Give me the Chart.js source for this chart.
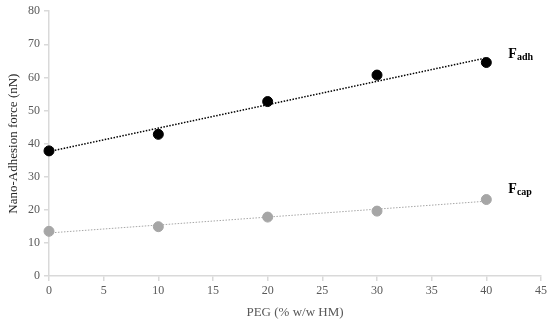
<!DOCTYPE html>
<html><head><meta charset="utf-8">
<script src="https://cdn.jsdelivr.net/npm/chart.js@4/dist/chart.umd.min.js"></script>
<style>html,body{margin:0;padding:0;background:#fff}#w{width:550px;height:320px}</style>
</head><body><div id="w"><canvas id="c"></canvas></div>
<script>
const pegPercent = [0, 10, 20, 30, 40];
const fAdh = [37.8, 42.8, 52.7, 60.7, 64.5];
const fCap = [13.5, 14.9, 17.8, 19.6, 23.1];
const trendX = [0, 40];
const fAdhTrend = [37.6, 65.9];
const fCapTrend = [13.0, 22.6];
const xTicks = [0, 5, 10, 15, 20, 25, 30, 35, 40, 45];
const yTicks = [0, 10, 20, 30, 40, 50, 60, 70, 80];
const seriesLabels = [["F", "adh"], ["F", "cap"]];

const pts = (xs, ys) => xs.map((x, i) => ({x, y: ys[i]}));
const serif = "'Liberation Serif', 'DejaVu Serif', serif";
const axisColor = '#d9d9d9';
const textColor = '#595959';

const labelPlugin = {
  id: 'seriesLabels',
  afterDatasetsDraw(chart) {
    const {ctx, scales: {x, y}} = chart;
    const anchors = [fAdhTrend[1], fCapTrend[1]];
    const offs = [[22, 0], [22, -8]];
    ctx.save();
    ctx.fillStyle = '#000';
    ctx.textBaseline = 'alphabetic';
    seriesLabels.forEach((lab, i) => {
      const px = x.getPixelForValue(trendX[1]) + offs[i][0];
      const py = y.getPixelForValue(anchors[i]) + offs[i][1];
      ctx.font = "bold 14px " + serif;
      ctx.fillText(lab[0], px, py);
      const w = ctx.measureText(lab[0]).width;
      ctx.font = "bold 10px " + serif;
      ctx.fillText(lab[1], px + w, py + 2);
    });
    ctx.restore();
  }
};

new Chart(document.getElementById('c'), {
  type: 'scatter',
  data: {
    datasets: [
      {data: pts(pegPercent, fAdh), backgroundColor: '#000', borderColor: '#000', pointRadius: 5, pointHoverRadius: 5, showLine: false, clip: false},
      {data: pts(pegPercent, fCap), backgroundColor: '#a6a6a6', borderColor: '#a6a6a6', pointRadius: 5, pointHoverRadius: 5, showLine: false, clip: false},
      {data: pts(trendX, fAdhTrend), borderColor: '#000', borderWidth: 1.5, borderDash: [1.5, 1.5], pointRadius: 0, showLine: true, clip: false},
      {data: pts(trendX, fCapTrend), borderColor: '#a6a6a6', borderWidth: 1, borderDash: [1.5, 1.5], pointRadius: 0, showLine: true, clip: false}
    ]
  },
  options: {
    responsive: true,
    maintainAspectRatio: false,
    animation: false,
    events: [],
    layout: {padding: {left: 6, right: 9, top: 9, bottom: 0}},
    plugins: {legend: {display: false}, tooltip: {enabled: false}},
    scales: {
      x: {
        type: 'linear', min: 0, max: 45,
        afterBuildTicks: s => { s.ticks = xTicks.map(v => ({value: v})); },
        afterFit: s => { s.height = 44; },
        border: {color: axisColor, width: 1.5},
        grid: {drawOnChartArea: false, color: axisColor, tickLength: 5, lineWidth: 1.5},
        ticks: {color: textColor, font: {family: serif, size: 12}, padding: 3, maxRotation: 0},
        title: {display: true, text: 'PEG (% w/w HM)', color: textColor, font: {family: serif, size: 13}, padding: {top: 1, bottom: 0}}
      },
      y: {
        type: 'linear', min: 0, max: 80,
        afterBuildTicks: s => { s.ticks = yTicks.map(v => ({value: v})); },
        afterFit: s => { s.width = 43; },
        border: {color: axisColor, width: 1.5},
        grid: {drawOnChartArea: false, color: axisColor, tickLength: 5, lineWidth: 1.5},
        ticks: {color: textColor, font: {family: serif, size: 12}, padding: 4},
        title: {display: true, text: 'Nano-Adhesion force (nN)', color: '#262626', font: {family: serif, size: 13}, padding: {top: 0, bottom: 2}}
      }
    }
  },
  plugins: [labelPlugin]
});
</script></body></html>
